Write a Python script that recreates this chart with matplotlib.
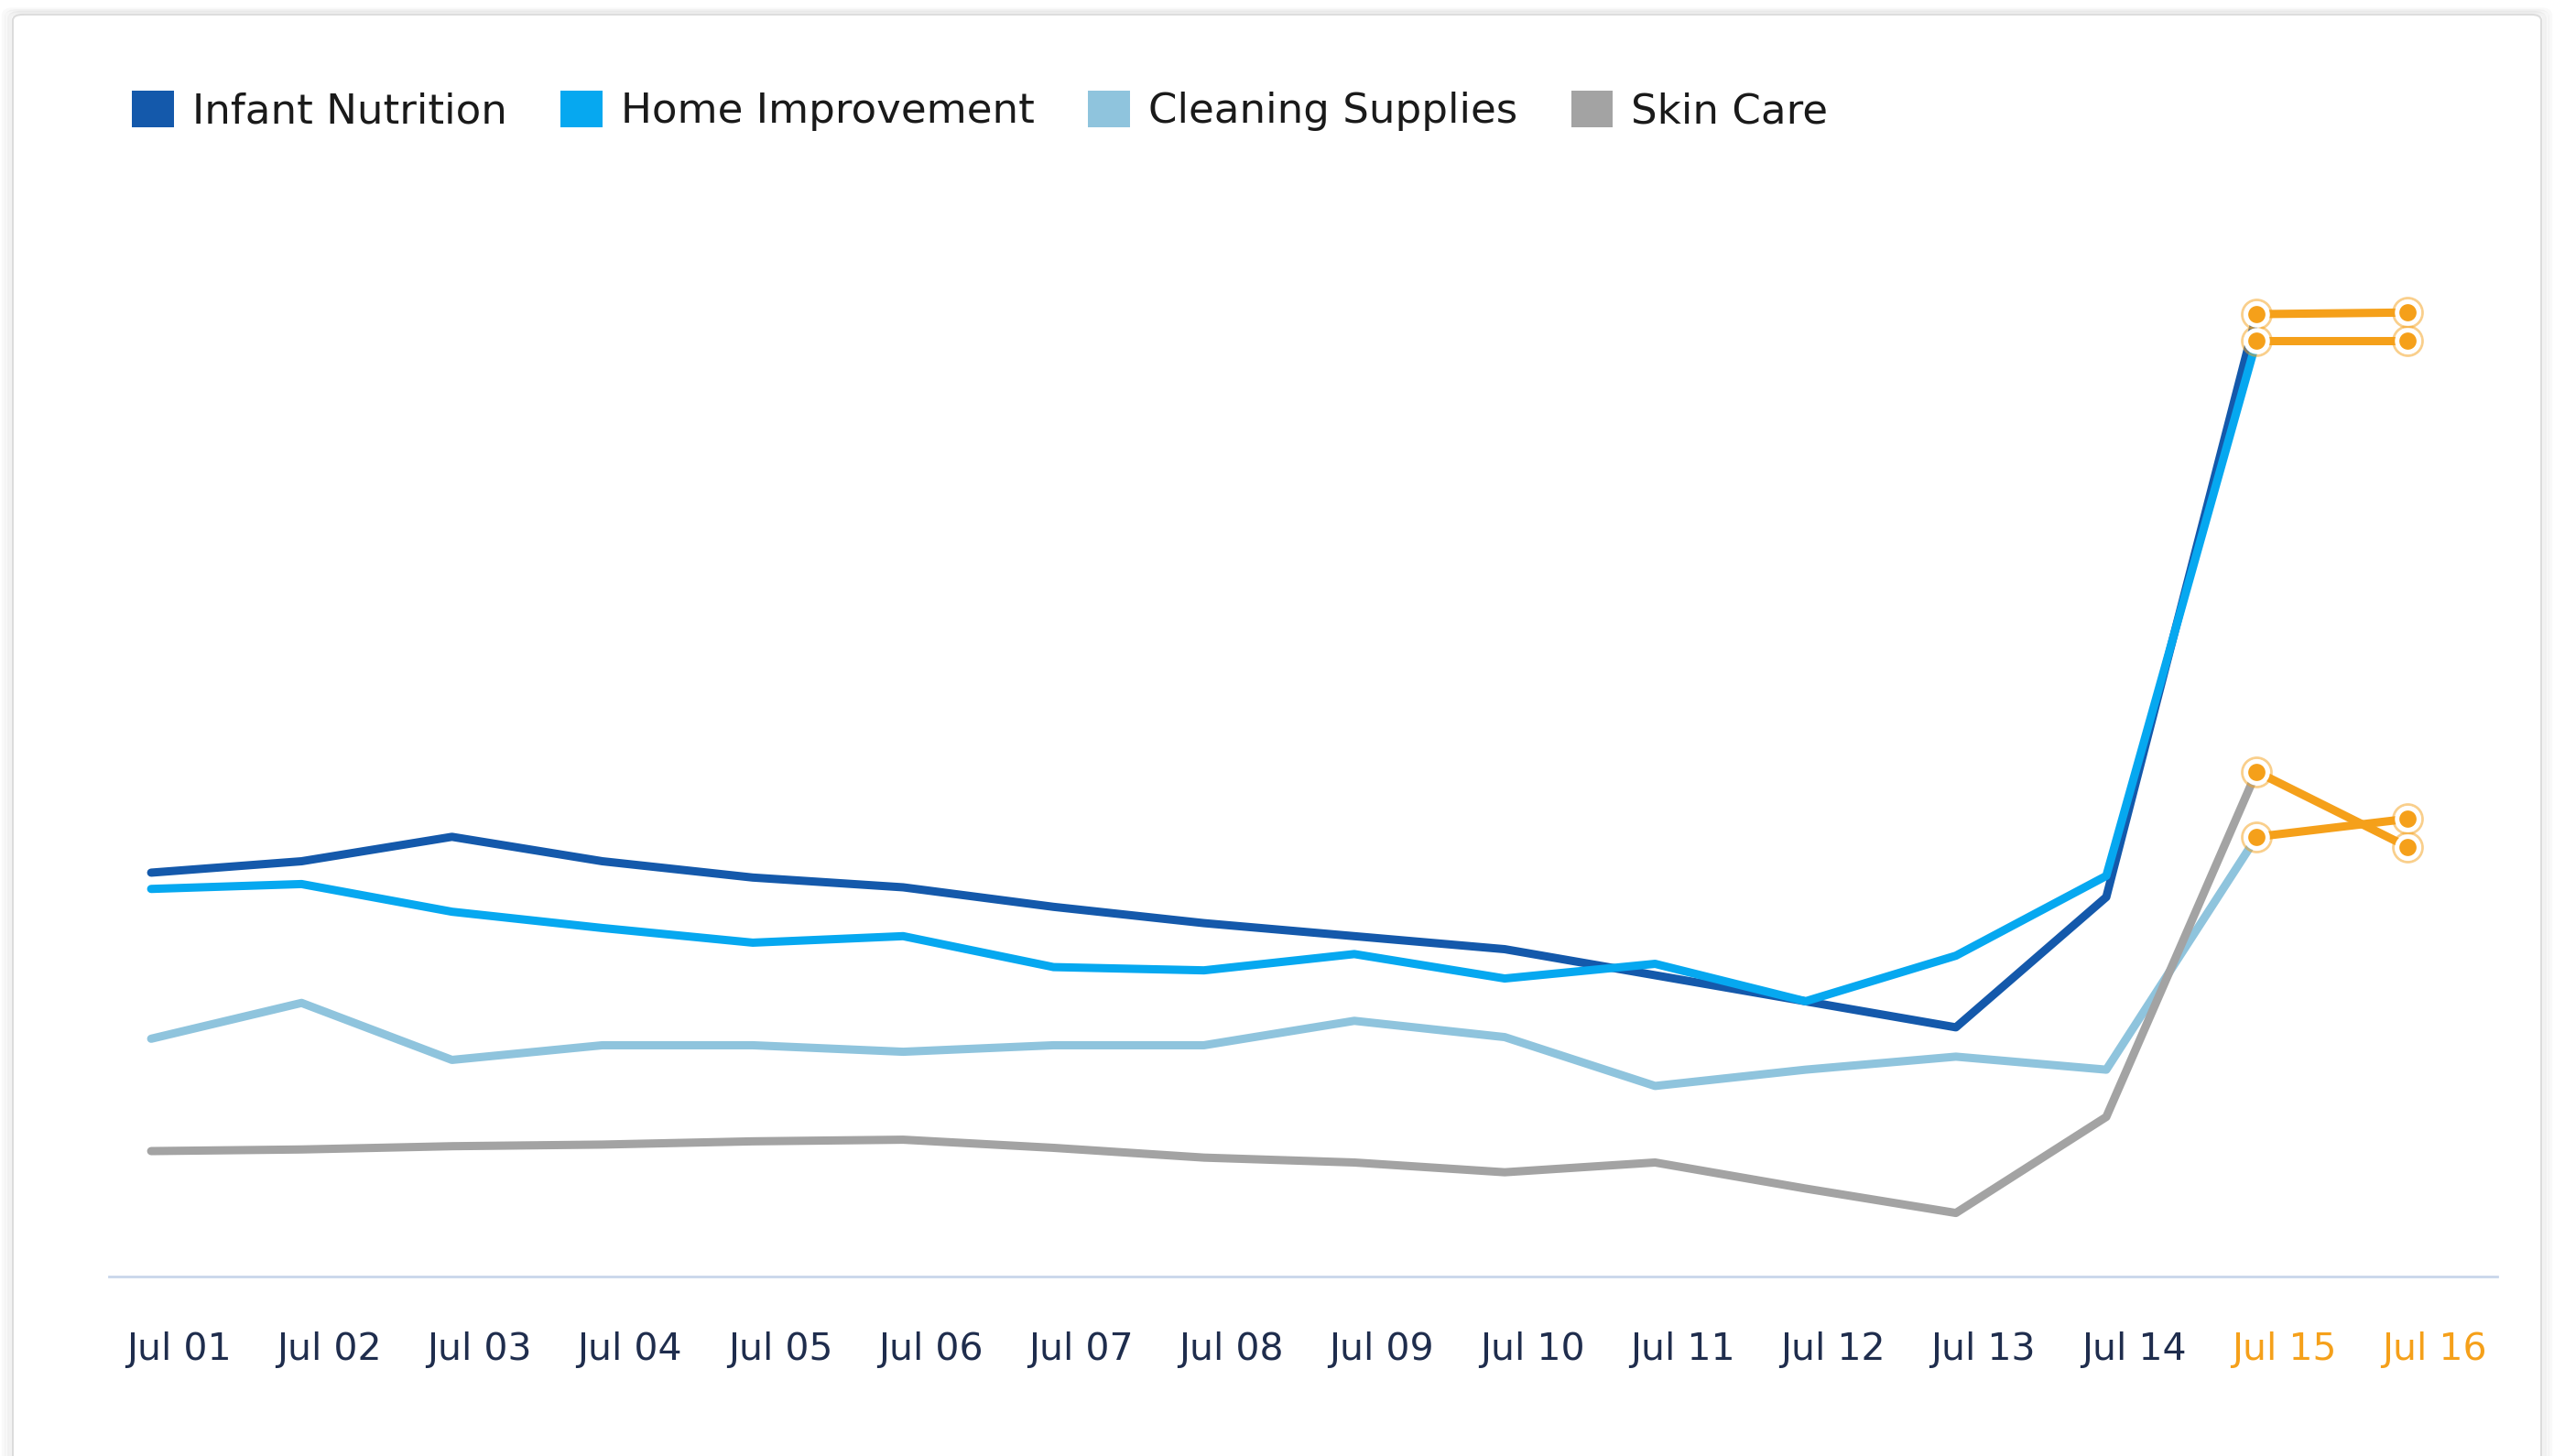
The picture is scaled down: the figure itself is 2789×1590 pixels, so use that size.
import matplotlib
matplotlib.use("Agg")
import matplotlib.pyplot as plt
import matplotlib.transforms as mtransforms
from matplotlib.patches import Patch, FancyBboxPatch

# ── data ────────────────────────────────────────────────────────────────
dates = ["Jul 01", "Jul 02", "Jul 03", "Jul 04", "Jul 05", "Jul 06", "Jul 07", "Jul 08",
         "Jul 09", "Jul 10", "Jul 11", "Jul 12", "Jul 13", "Jul 14", "Jul 15", "Jul 16"]
n_actual = 14  # Jul 15 / Jul 16 are forecast

infant_nutrition = [248, 255, 270, 255, 245, 239, 227, 217, 209, 201, 185, 169, 153, 233, 591, 592]
home_improvement = [238, 241, 224, 214, 205, 209, 190, 188, 198, 183, 192, 169, 197, 246, 575, 575]
cleaning_supplies = [146, 168, 133, 142, 142, 138, 142, 142, 157, 147, 117, 127, 135, 127, 270, 281]
skin_care = [77, 78, 80, 81, 83, 84, 79, 73, 70, 64, 70, 54, 39, 98, 310, 264]

series = [
    ("Infant Nutrition", infant_nutrition, "#1459ab"),
    ("Home Improvement", home_improvement, "#06a8f0"),
    ("Cleaning Supplies", cleaning_supplies, "#8fc4dd"),
    ("Skin Care", skin_care, "#a3a3a3"),
]

ORANGE = "#f5a01a"
TEXT = "#1f2d4d"

plt.rcParams["font.family"] = ["DejaVu Sans"]

fig = plt.figure(figsize=(27.89, 15.9), dpi=100)
fig.patch.set_facecolor("white")

# card with soft shadow
for k, a in enumerate([0.05, 0.08, 0.12]):
    off = (3 - k) * 0.0012
    fig.patches.append(FancyBboxPatch((0.005 - off, 0.0 - 0.05), 0.99 + 2 * off, 0.99 + off + 0.05,
                                      boxstyle="round,pad=0,rounding_size=0.004",
                                      transform=fig.transFigure, facecolor="none",
                                      edgecolor="#9a9a9a", alpha=a, lw=3, zorder=-2))
fig.patches.append(FancyBboxPatch((0.005, -0.05), 0.99, 0.99 + 0.05,
                                  boxstyle="round,pad=0,rounding_size=0.004",
                                  transform=fig.transFigure, facecolor="white",
                                  edgecolor="#dcdcdc", lw=1.5, zorder=-1))

ax = fig.add_axes([0.0427, 0.1233, 0.9351, 0.7314])
ax.set_zorder(2)
ax.set_facecolor("none")
x = list(range(len(dates)))

for name, vals, color in series:
    ax.plot(x[:n_actual + 1], vals[:n_actual + 1], color=color, lw=6.5,
            solid_capstyle="round", solid_joinstyle="round", zorder=3)
    # forecast segment
    ax.plot(x[n_actual:], vals[n_actual:], color=ORANGE, lw=6.5,
            solid_capstyle="round", zorder=4)
    ax.plot(x[n_actual:], vals[n_actual:], ls="none", marker="o", ms=23,
            mfc="none", mec=ORANGE, mew=2, alpha=0.5, zorder=5)
    ax.plot(x[n_actual:], vals[n_actual:], ls="none", marker="o", ms=17,
            mfc=ORANGE, mec="white", mew=3.5, zorder=6)

ax.set_xlim(-0.28, 15.6)
ax.set_ylim(0, 654)
ax.set_yticks([])
for side in ["top", "right", "left"]:
    ax.spines[side].set_visible(False)
ax.spines["bottom"].set_color("#c9d6ea")
ax.spines["bottom"].set_linewidth(2)

ax.set_xticks(x)
ax.set_xticklabels(dates, fontsize=29.5, color=TEXT)
ax.tick_params(axis="x", length=0, pad=43)
shift = mtransforms.ScaledTranslation(0.30, 0, fig.dpi_scale_trans)
for i, lbl in enumerate(ax.get_xticklabels()):
    lbl.set_transform(lbl.get_transform() + shift)
    if i >= n_actual:
        lbl.set_color(ORANGE)

handles = [Patch(facecolor=c, edgecolor="none", label=n) for n, _, c in series]
fig.legend(handles=handles, loc="center left", bbox_to_anchor=(0.0437, 0.924),
           ncol=4, frameon=False, fontsize=32.5, handlelength=1.0, handleheight=1.0,
           handletextpad=0.45, columnspacing=1.3, borderpad=0, labelcolor="#1a1a1a")

fig.savefig("out.png", dpi=100, facecolor="white")
